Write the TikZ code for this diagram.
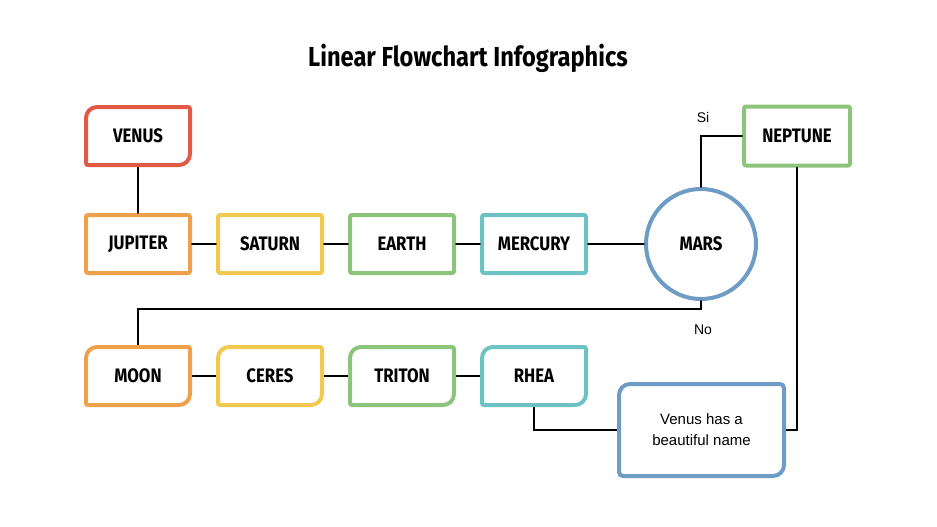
\documentclass[tikz,border=0pt]{standalone}
\usepackage{fontspec}
\setmainfont{Liberation Sans}
\newfontfamily\boxfont{Fira Sans}[FakeStretch=0.86]
\definecolor{cred}{HTML}{E05A45}
\definecolor{corange}{HTML}{EFA04B}
\definecolor{cyellow}{HTML}{F2C94F}
\definecolor{cgreen}{HTML}{8DC47B}
\definecolor{cteal}{HTML}{6DC3C3}
\definecolor{cblue}{HTML}{6F9CC5}
\begin{document}
\begin{tikzpicture}[x=1pt,y=-1pt,
	lbl/.style={font=\boxfont\bfseries\fontsize{19.5}{22}\selectfont,minimum width=104pt,minimum height=58pt,outer sep=0pt},
	flat/.style={lbl,draw=#1,line width=4pt,rounded corners=2pt,outer sep=2pt},
	rim/.style={line width=4pt,draw=#1},
	wire/.style={line width=1.6pt,line cap=round},
	small/.style={font=\fontsize{14}{16}\selectfont}]
	\useasboundingbox (0,0) rectangle (937,527);
	\node[font=\boxfont\bfseries\fontsize{27.5}{32}\selectfont] (title) at (468,58) {Linear Flowchart Infographics};
	% top row
	\node[lbl] (venus) at (138,136) {VENUS};
	\node[flat=corange] (jupiter) at (138,244) {JUPITER};
	\node[flat=cyellow] (saturn) at (270,244) {SATURN};
	\node[flat=cgreen] (earth) at (402,244) {EARTH};
	\node[flat=cteal] (mercury) at (534,244) {MERCURY};
	\node[lbl,circle,minimum size=110pt,draw=cblue,line width=4pt,outer sep=2pt] (mars) at (701,244) {MARS};
	\node[flat=cgreen,minimum width=106pt,minimum height=59pt] (neptune) at (797,136) {NEPTUNE};
	% bottom row
	\node[lbl] (moon) at (138,376) {MOON};
	\node[lbl] (ceres) at (270,376) {CERES};
	\node[lbl] (triton) at (402,376) {TRITON};
	\node[lbl] (rhea) at (534,376) {RHEA};
	\node[lbl,font=\fontsize{15}{21}\selectfont,align=center,minimum width=165pt,minimum height=92pt] (note) at (701.5,430) {Venus has a\\beautiful name};
	\node[small] (si) at (703,117) {Si};
	\node[small] (no) at (703,330) {No};
	% connectors
	\draw[wire] (venus.south)--(jupiter.north) (jupiter)--(saturn) (saturn)--(earth) (earth)--(mercury) (mercury)--(mars);
	\draw[wire] (mars.north) |- (neptune.west);
	\draw[wire] (mars.south)--++(0,8) -| (moon.north);
	\draw[wire] (moon)--(ceres) (ceres)--(triton) (triton)--(rhea);
	\draw[wire] (rhea.south) |- (note.west);
	\draw[wire] (neptune.south) |- (note.east);
	% outlines: top left and bottom right corners round
	\foreach \n/\c/\r in {venus/cred/2pt,moon/corange/2pt,ceres/cyellow/2pt,triton/cgreen/2pt,rhea/cteal/2pt,note/cblue/4pt}
		\draw[rim=\c] (\n.north) [rounded corners=\r]--(\n.north east)--(\n.east) [rounded corners=11pt]--(\n.south east)--(\n.south) [rounded corners=\r]--(\n.south west)--(\n.west) [rounded corners=11pt]--(\n.north west)--cycle;
\end{tikzpicture}
\end{document}
